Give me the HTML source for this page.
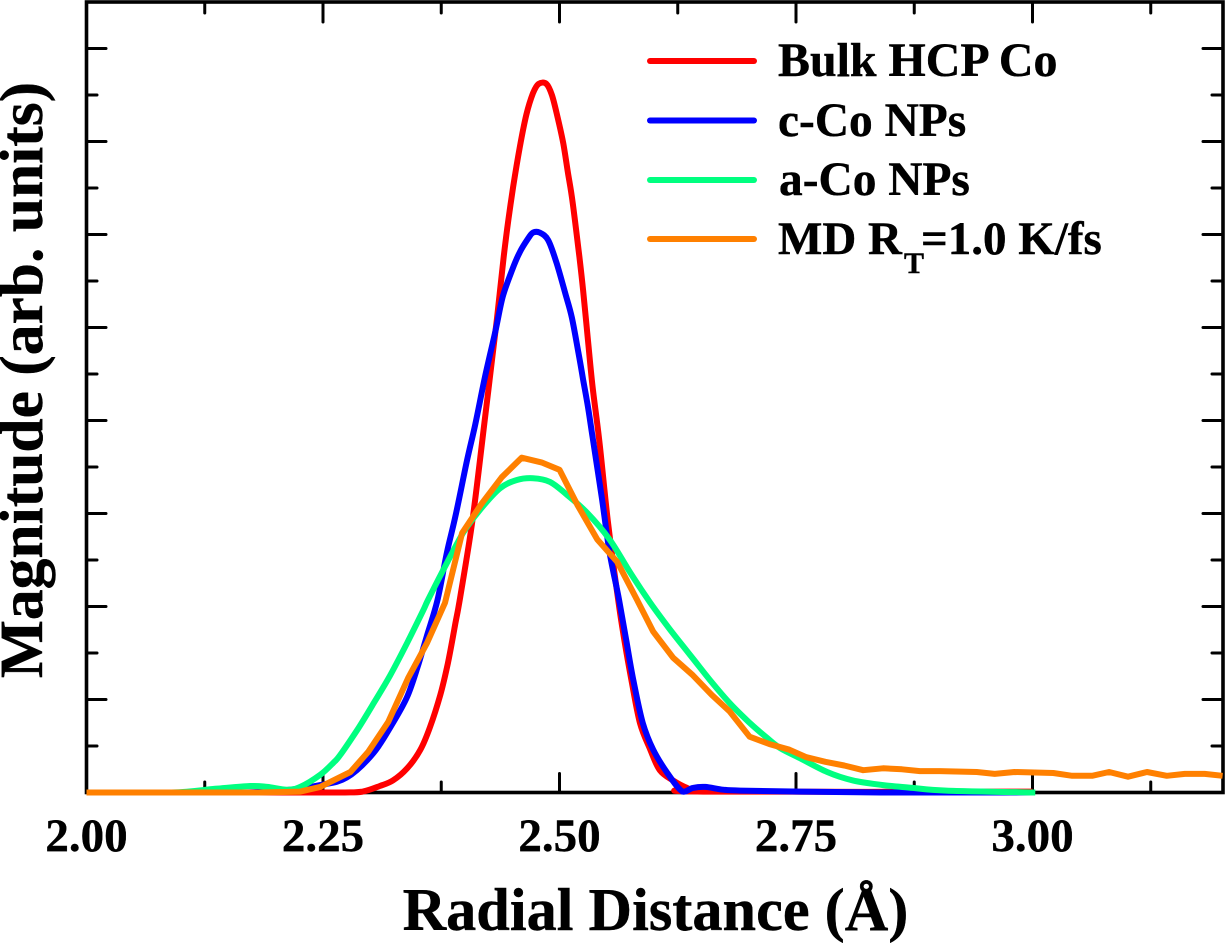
<!DOCTYPE html>
<html lang="en">
<head>
<meta charset="utf-8">
<title>Radial Distance Chart</title>
<style>
html,body{margin:0;padding:0;background:#fff;}
svg{display:block;}
text{font-family:"Liberation Serif",serif;font-weight:bold;fill:#000;stroke:#000;stroke-width:0.4px;}
</style>
</head>
<body>
<svg id="chart" xmlns="http://www.w3.org/2000/svg" width="1225" height="943" viewBox="0 0 1225 943">
  <g id="ticks"></g>
  <rect x="86.5" y="2" width="1136.5" height="790.5" fill="none" stroke="#000" stroke-width="3.6"/>
  <g id="tick-labels"></g>
  <g id="series"></g>
  <text x="655.5" y="930" font-size="60.3" text-anchor="middle">Radial Distance (Å)</text>
  <text transform="translate(42,380) rotate(-90)" font-size="61.5" text-anchor="middle">Magnitude (arb. units)</text>
  <g>
    <line x1="650" y1="61" x2="754" y2="61" stroke="#ff0000" stroke-width="6" stroke-linecap="round"/>
    <text x="778" y="76" font-size="47.9">Bulk HCP Co</text>
    <line x1="650" y1="120.5" x2="754" y2="120.5" stroke="#0000ff" stroke-width="6" stroke-linecap="round"/>
    <text x="778" y="136" font-size="47.4">c-Co NPs</text>
    <line x1="650" y1="180" x2="754" y2="180" stroke="#00ff80" stroke-width="6" stroke-linecap="round"/>
    <text x="779" y="195" font-size="47.4">a-Co NPs</text>
    <line x1="650" y1="239" x2="754" y2="239" stroke="#ff8000" stroke-width="6" stroke-linecap="round"/>
    <text x="778" y="254" font-size="47">MD R</text>
    <text x="904" y="273" font-size="30">T</text>
    <text x="921" y="254" font-size="47">=1.0 K/fs</text>
  </g>
</svg>
<script>
const xTickLabels = ["2.00", "2.25", "2.50", "2.75", "3.00"];
const xMajorTicks = [2.0, 2.25, 2.5, 2.75, 3.0];
const xMinorTicks = [2.125, 2.375, 2.625, 2.875, 3.125];
const yMajorTicks = [1, 2, 3, 4, 5, 6, 7, 8];
const yMinorTicks = [0.5, 1.5, 2.5, 3.5, 4.5, 5.5, 6.5, 7.5];

const bulkX = [2.000,2.226,2.273,2.292,2.310,2.324,2.339,2.353,2.363,2.374,2.382,2.390,2.395,2.408,2.421,2.427,2.434,2.441,2.446,2.451,2.458,2.465,2.472,2.478,2.486,2.492,2.498,2.504,2.509,2.514,2.521,2.525,2.530,2.535,2.542,2.551,2.562,2.569,2.576,2.585,2.596,2.606,2.620,2.635,2.652,3.000];
const bulkY = [0,0,0,0.01,0.07,0.13,0.26,0.46,0.70,1.05,1.39,1.82,2.10,2.93,4.01,4.51,5.11,5.76,6.16,6.51,6.94,7.29,7.52,7.62,7.62,7.50,7.26,6.98,6.66,6.34,5.76,5.40,4.87,4.36,3.79,2.93,2.07,1.61,1.21,0.75,0.46,0.24,0.13,0.05,0.01,0.01];

const cCoX = [2.000,2.162,2.215,2.247,2.275,2.303,2.324,2.339,2.350,2.360,2.371,2.381,2.390,2.402,2.411,2.421,2.432,2.440,2.450,2.458,2.467,2.472,2.479,2.488,2.497,2.506,2.513,2.520,2.525,2.530,2.535,2.545,2.553,2.563,2.571,2.578,2.588,2.599,2.614,2.630,2.641,2.654,2.673,2.691,2.754,2.839,3.000];
const cCoY = [0,0,0.03,0.08,0.16,0.42,0.75,1.03,1.35,1.69,2.07,2.58,2.97,3.56,3.96,4.46,4.95,5.33,5.62,5.81,5.96,6.02,6.02,5.94,5.69,5.37,5.11,4.73,4.44,4.15,3.82,3.15,2.58,2.07,1.61,1.21,0.75,0.46,0.21,0.01,0.05,0.06,0.03,0.02,0.01,0,0];

const aCoX = [2.000,2.090,2.136,2.173,2.191,2.212,2.226,2.247,2.261,2.268,2.286,2.303,2.321,2.339,2.356,2.361,2.377,2.398,2.416,2.437,2.455,2.472,2.490,2.508,2.529,2.553,2.575,2.596,2.617,2.638,2.659,2.680,2.701,2.719,2.733,2.754,2.783,2.810,2.842,2.873,2.909,3.003];
const aCoY = [0,0,0.04,0.07,0.06,0.03,0.06,0.19,0.32,0.40,0.67,0.95,1.26,1.61,1.96,2.07,2.39,2.79,3.04,3.27,3.36,3.38,3.34,3.20,3.01,2.72,2.36,2.04,1.75,1.48,1.21,0.96,0.75,0.59,0.48,0.37,0.22,0.13,0.08,0.05,0.02,0];

const mdX = [2.000,2.183,2.226,2.247,2.279,2.298,2.319,2.340,2.360,2.379,2.397,2.418,2.439,2.460,2.481,2.500,2.519,2.540,2.561,2.582,2.599,2.620,2.641,2.661,2.680,2.701,2.722,2.743,2.761,2.781,2.801,2.821,2.842,2.862,2.881,2.902,2.941,2.960,2.981,3.022,3.042,3.063,3.081,3.101,3.121,3.142,3.161,3.182,3.201];
const mdY = [0,0,0.01,0.06,0.22,0.44,0.76,1.23,1.61,2.04,2.79,3.11,3.39,3.60,3.55,3.47,3.09,2.72,2.48,2.07,1.73,1.45,1.26,1.05,0.87,0.60,0.52,0.46,0.38,0.33,0.29,0.24,0.26,0.25,0.23,0.23,0.22,0.20,0.22,0.21,0.18,0.18,0.22,0.17,0.22,0.18,0.20,0.20,0.18];

const NS = "http://www.w3.org/2000/svg";
function xScale(v) { return 86.5 + 946 * (v - 2); }
function yScale(v) { return 792.5 - 93 * v; }

const tickGroup = document.getElementById("ticks");
function addTick(x1, y1, x2, y2, name) {
  const t = document.createElementNS(NS, "line");
  t.setAttribute("x1", x1);
  t.setAttribute("y1", y1);
  t.setAttribute("x2", x2);
  t.setAttribute("y2", y2);
  t.setAttribute("stroke", "#000");
  t.setAttribute("stroke-width", "3");
  t.setAttribute("stroke-linecap", "round");
  
  
  tickGroup.appendChild(t);
}
xMajorTicks.forEach(function (v) {
  addTick(xScale(v), 792.5, xScale(v), 773.5, "x-major-tick-bottom");
  addTick(xScale(v), 2, xScale(v), 22, "x-major-tick-top");
});
xMinorTicks.forEach(function (v) {
  addTick(xScale(v), 792.5, xScale(v), 782, "x-minor-tick-bottom");
  addTick(xScale(v), 2, xScale(v), 13, "x-minor-tick-top");
});
yMajorTicks.forEach(function (v) {
  addTick(86.5, yScale(v), 106, yScale(v), "y-major-tick-left");
  addTick(1223, yScale(v), 1203, yScale(v), "y-major-tick-right");
});
yMinorTicks.forEach(function (v) {
  addTick(86.5, yScale(v), 97, yScale(v), "y-minor-tick-left");
  addTick(1223, yScale(v), 1212, yScale(v), "y-minor-tick-right");
});

const labelGroup = document.getElementById("tick-labels");
xTickLabels.forEach(function (label, i) {
  const t = document.createElementNS(NS, "text");
  t.setAttribute("x", xScale(xMajorTicks[i]));
  t.setAttribute("y", 851);
  t.setAttribute("font-size", "47");
  t.setAttribute("text-anchor", "middle");
  
  
  t.textContent = label;
  labelGroup.appendChild(t);
});

function smoothPath(xs, ys) {
  const px = xs.map(xScale);
  const py = ys.map(yScale);
  let d = "M" + px[0].toFixed(1) + "," + py[0].toFixed(1);
  for (let i = 0; i < px.length - 1; i++) {
    const a = Math.max(i - 1, 0);
    const b = Math.min(i + 2, px.length - 1);
    const c1x = px[i] + (px[i + 1] - px[a]) / 6;
    const c1y = Math.min(py[i] + (py[i + 1] - py[a]) / 6, 792.5);
    const c2x = px[i + 1] - (px[b] - px[i]) / 6;
    const c2y = Math.min(py[i + 1] - (py[b] - py[i]) / 6, 792.5);
    d += "C" + c1x.toFixed(1) + "," + c1y.toFixed(1) + " " + c2x.toFixed(1) + "," + c2y.toFixed(1) + " " + px[i + 1].toFixed(1) + "," + py[i + 1].toFixed(1);
  }
  return d;
}
function straightPath(xs, ys) {
  return xs.map(function (x, i) {
    return (i ? "L" : "M") + xScale(x).toFixed(1) + "," + yScale(ys[i]).toFixed(1);
  }).join("");
}

const seriesGroup = document.getElementById("series");
function addSeries(d, color, name) {
  const p = document.createElementNS(NS, "path");
  p.setAttribute("d", d);
  p.setAttribute("fill", "none");
  p.setAttribute("stroke", color);
  p.setAttribute("stroke-width", "6");
  p.setAttribute("stroke-linejoin", "round");
  
  
  seriesGroup.appendChild(p);
}
addSeries(smoothPath(bulkX, bulkY), "#ff0000", "series-bulk-hcp-co");
addSeries(smoothPath(cCoX, cCoY), "#0000ff", "series-c-co-nps");
addSeries(smoothPath(aCoX, aCoY), "#00ff80", "series-a-co-nps");
addSeries(straightPath(mdX, mdY), "#ff8000", "series-md-1-0-k-fs");
</script>
</body>
</html>
